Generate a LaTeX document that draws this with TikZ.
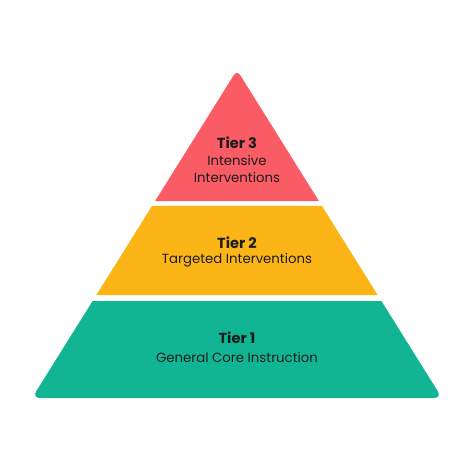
\documentclass[tikz,border=0pt]{standalone}
\usepackage{fontspec}
\setmainfont{Poppins}
\usetikzlibrary{calc}

\definecolor{tierred}{HTML}{FA5C65}
\definecolor{tieryellow}{HTML}{FCB517}
\definecolor{tiergreen}{HTML}{12B593}
\definecolor{tierink}{HTML}{1C1C1C}

\begin{document}
\begin{tikzpicture}[x=1pt,y=-1pt]

\def\ta{0.3994}
\def\tb{0.4146}
\def\tc{0.6860}
\def\td{0.7043}

\tikzstyle{tname} = [font=\fontsize{14.6}{17}\selectfont\bfseries,text=tierink,inner sep=0pt];
\tikzstyle{tdesc} = [font=\fontsize{13.3}{17}\selectfont,text=tierink,align=center,inner sep=0pt];

\useasboundingbox [fill=white] (0,0) rectangle (474,474);

\coordinate (apex) at (237,70);
\coordinate (bl) at (32,398);
\coordinate (br) at (442,398);

% Tier 3
\fill [tierred] ($(apex)!\ta!(bl)$) -- ($(apex)!\ta!(br)$) [rounded corners=6pt] -- (apex) [sharp corners] -- cycle;

% Tier 2
\fill [tieryellow] ($(apex)!\tb!(bl)$) -- ($(apex)!\tb!(br)$) -- ($(apex)!\tc!(br)$) -- ($(apex)!\tc!(bl)$) -- cycle;

% Tier 1
\fill [tiergreen] ($(apex)!\td!(bl)$) -- ($(apex)!\td!(br)$) [rounded corners=8pt] -- (br) -- (bl) [sharp corners] -- cycle;

\node [tname] (t3name) at (237,143) {Tier 3};
\node [tdesc] (t3desc) at (237,168.5) {Intensive\\Interventions};

\node [tname] (t2name) at (237,243) {Tier 2};
\node [tdesc] (t2desc) at (237,260) {Targeted Interventions};

\node [tname] (t1name) at (237,338) {Tier 1};
\node [tdesc] (t1desc) at (237,357) {General Core Instruction};

\end{tikzpicture}
\end{document}
